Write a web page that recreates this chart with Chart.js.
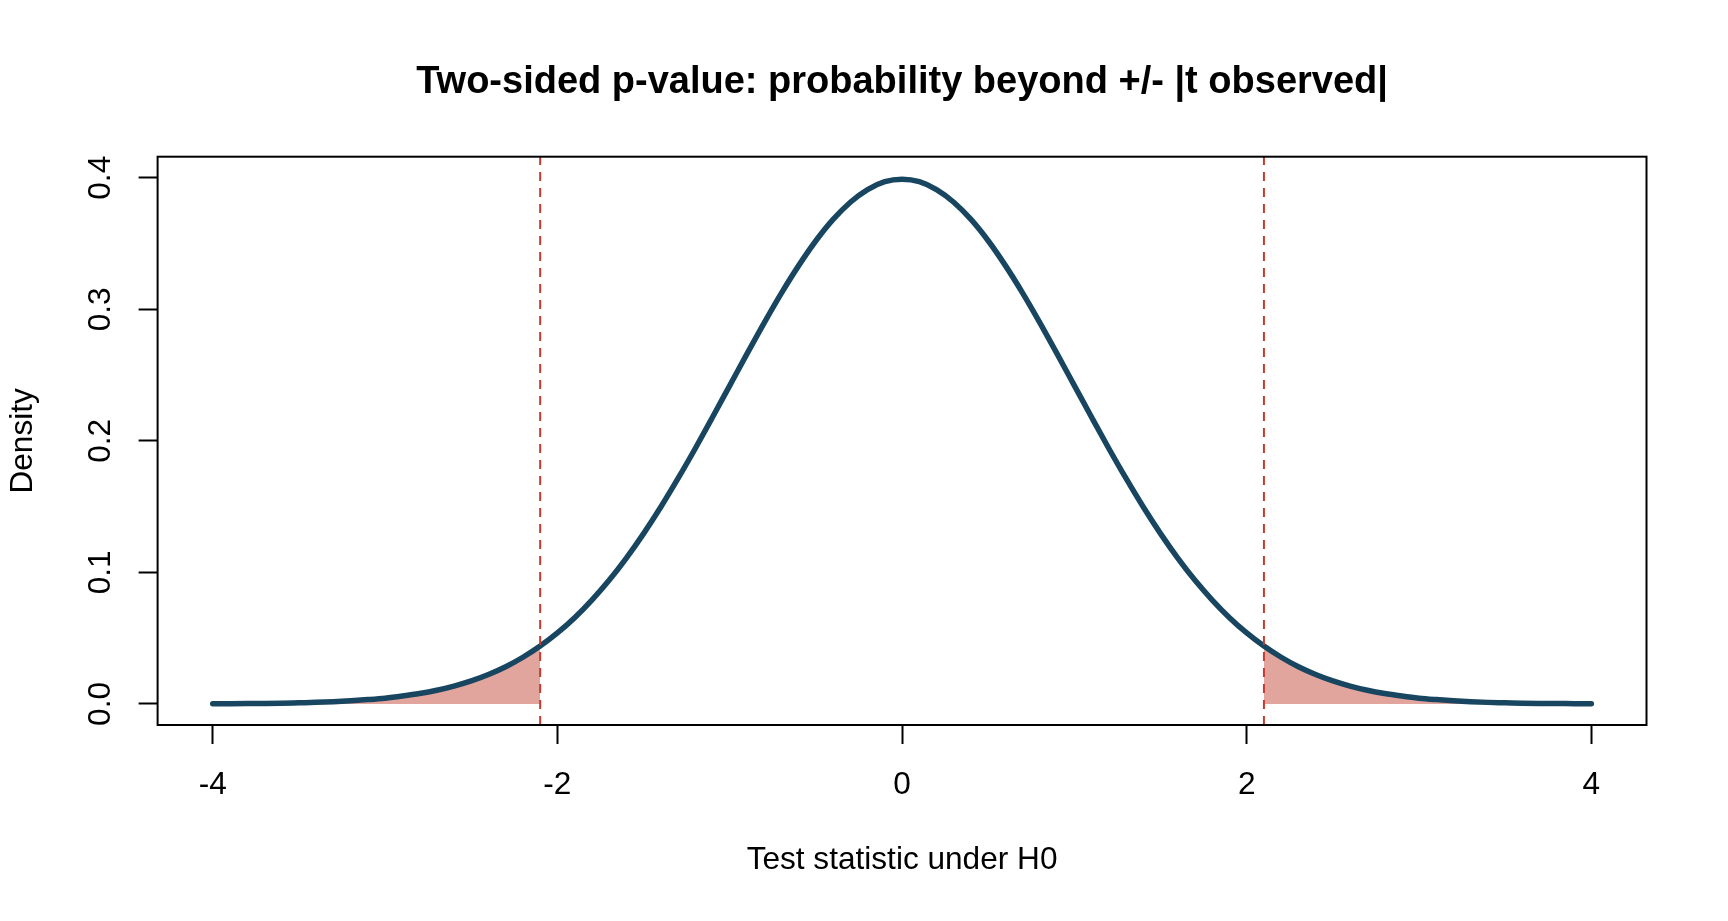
<!DOCTYPE html>
<html lang="en">
<head>
  <meta charset="UTF-8">
  <title>Two-sided p-value</title>
  <script src="https://cdn.jsdelivr.net/npm/chart.js"></script>
  <style>
    body { margin: 0; background: #fff; }
  </style>
</head>
<body>
  <canvas id="pChart" width="1728" height="921"></canvas>

  <script>
    // test statistic grid and the density
    const tValues = [
      -4.0, -3.9, -3.8, -3.7, -3.6, -3.5, -3.4, -3.3, -3.2, -3.1,
      -3.0, -2.9, -2.8, -2.7, -2.6, -2.5, -2.4, -2.3, -2.2, -2.1,
      -2.0, -1.9, -1.8, -1.7, -1.6, -1.5, -1.4, -1.3, -1.2, -1.1,
      -1.0, -0.9, -0.8, -0.7, -0.6, -0.5, -0.4, -0.3, -0.2, -0.1,
      0.0,
      0.1, 0.2, 0.3, 0.4, 0.5, 0.6, 0.7, 0.8, 0.9, 1.0,
      1.1, 1.2, 1.3, 1.4, 1.5, 1.6, 1.7, 1.8, 1.9, 2.0,
      2.1, 2.2, 2.3, 2.4, 2.5, 2.6, 2.7, 2.8, 2.9, 3.0,
      3.1, 3.2, 3.3, 3.4, 3.5, 3.6, 3.7, 3.8, 3.9, 4.0
    ];
    const density = [
      0.0001, 0.0002, 0.0003, 0.0004, 0.0006, 0.0009, 0.0012, 0.0017, 0.0024, 0.0033,
      0.0044, 0.0060, 0.0079, 0.0104, 0.0136, 0.0175, 0.0224, 0.0283, 0.0355, 0.0440,
      0.0540, 0.0656, 0.0790, 0.0940, 0.1109, 0.1295, 0.1497, 0.1714, 0.1942, 0.2179,
      0.2420, 0.2661, 0.2897, 0.3123, 0.3332, 0.3521, 0.3683, 0.3814, 0.3910, 0.3970,
      0.3989,
      0.3970, 0.3910, 0.3814, 0.3683, 0.3521, 0.3332, 0.3123, 0.2897, 0.2661, 0.2420,
      0.2179, 0.1942, 0.1714, 0.1497, 0.1295, 0.1109, 0.0940, 0.0790, 0.0656, 0.0540,
      0.0440, 0.0355, 0.0283, 0.0224, 0.0175, 0.0136, 0.0104, 0.0079, 0.0060, 0.0044,
      0.0033, 0.0024, 0.0017, 0.0012, 0.0009, 0.0006, 0.0004, 0.0003, 0.0002, 0.0001
    ];
    const tObserved = 2.1;
    const xTicks = [-4, -2, 0, 2, 4];
    const yTicks = [0.0, 0.1, 0.2, 0.3, 0.4];
    const xRange = [-4.32, 4.32];
    const yRange = [-0.016, 0.416];

    const curve = tValues.map((t, i) => ({ x: t, y: density[i] }));
    const leftTail = curve.filter(p => p.x <= -tObserved);
    const rightTail = curve.filter(p => p.x >= tObserved);

    const font = 'Liberation Sans, Arial, Helvetica, sans-serif';
    const baseSize = 31.6;

    // box around the plotting region, like R's box()
    const boxPlugin = {
      id: 'box',
      afterDatasetsDraw(chart) {
        const { ctx, chartArea: a } = chart;
        ctx.save();
        ctx.strokeStyle = '#000';
        ctx.lineWidth = 2;
        ctx.strokeRect(a.left, a.top, a.right - a.left, a.bottom - a.top);
        ctx.restore();
      }
    };

    function vline(x) {
      return {
        data: [{ x: x, y: yRange[0] }, { x: x, y: yRange[1] }],
        borderColor: '#C73A2E',
        borderWidth: 2,
        borderDash: [9, 7],
        pointRadius: 0,
        fill: false
      };
    }

    function tail(points) {
      return {
        data: points,
        borderWidth: 0,
        borderColor: 'rgba(0,0,0,0)',
        backgroundColor: '#E2A59D',
        pointRadius: 0,
        fill: { value: 0 },
        cubicInterpolationMode: 'monotone'
      };
    }

    new Chart(document.getElementById('pChart'), {
      type: 'line',
      data: {
        datasets: [
          vline(-tObserved),
          vline(tObserved),
          {
            data: curve,
            borderColor: '#184661',
            borderWidth: 5.5,
            borderCapStyle: 'round',
            borderJoinStyle: 'round',
            pointRadius: 0,
            fill: false,
            cubicInterpolationMode: 'monotone'
          },
          tail(leftTail),
          tail(rightTail)
        ]
      },
      options: {
        responsive: false,
        animation: false,
        layout: { padding: { left: 0, right: 81.5, top: 0, bottom: 0 } },
        plugins: {
          legend: { display: false },
          tooltip: { enabled: false },
          title: {
            display: true,
            fullSize: false,
            text: 'Two-sided p-value: probability beyond +/- |t observed|',
            color: '#000',
            font: { family: font, size: 38, weight: 'bold', lineHeight: 1.2 },
            padding: { top: 60, bottom: 51.1 }
          }
        },
        scales: {
          x: {
            type: 'linear',
            min: xRange[0],
            max: xRange[1],
            afterBuildTicks: s => { s.ticks = xTicks.map(v => ({ value: v })); },
            afterFit: s => { s.height = 196; },
            border: { display: false },
            grid: {
              drawOnChartArea: false,
              drawTicks: true,
              tickLength: 19,
              tickColor: '#000',
              tickWidth: 2
            },
            ticks: {
              color: '#000',
              padding: 22,
              font: { family: font, size: baseSize },
              callback: v => String(v)
            },
            title: {
              display: true,
              text: 'Test statistic under H0',
              color: '#000',
              font: { family: font, size: baseSize, lineHeight: 1.2 },
              padding: { top: 0, bottom: 42 }
            }
          },
          y: {
            type: 'linear',
            min: yRange[0],
            max: yRange[1],
            afterBuildTicks: s => { s.ticks = yTicks.map(v => ({ value: v })); },
            afterFit: s => { s.width = 157.6; },
            border: { display: false },
            grid: {
              drawOnChartArea: false,
              drawTicks: true,
              tickLength: 19,
              tickColor: '#000',
              tickWidth: 2
            },
            ticks: {
              color: '#000',
              padding: 15.6,
              minRotation: 90,
              maxRotation: 90,
              crossAlign: 'center',
              font: { family: font, size: baseSize },
              callback: v => v.toFixed(1)
            },
            title: {
              display: true,
              text: 'Density',
              color: '#000',
              font: { family: font, size: baseSize, lineHeight: 1.2 },
              padding: { top: 4.7, bottom: 0 }
            }
          }
        }
      },
      plugins: [boxPlugin]
    });
  </script>
</body>
</html>
